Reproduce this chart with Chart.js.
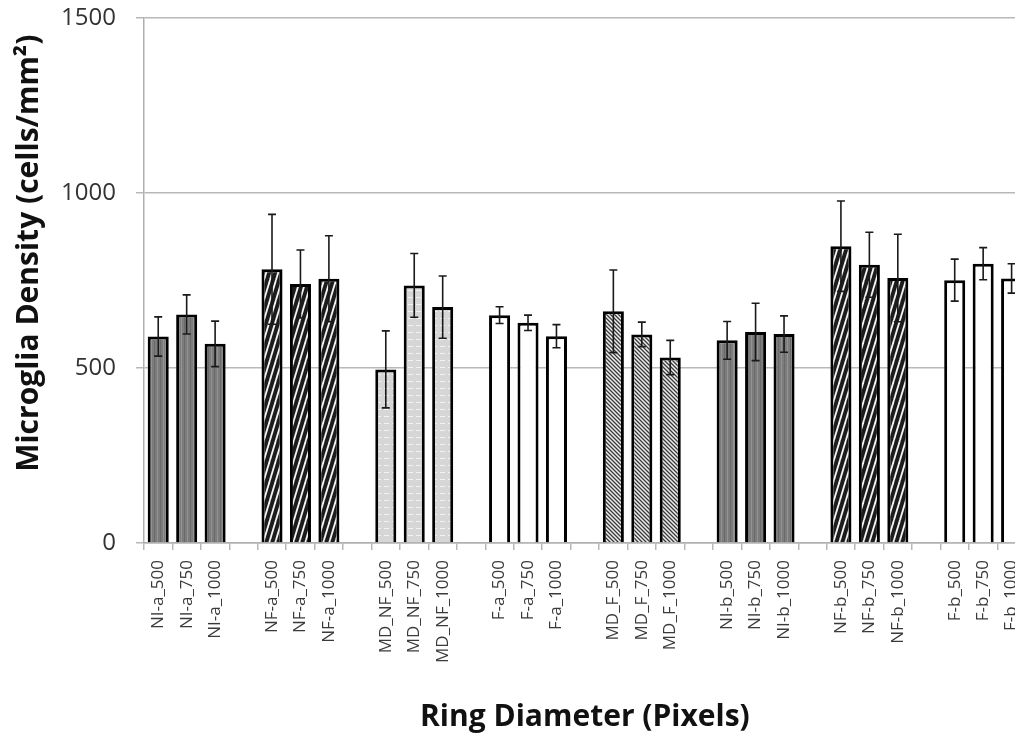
<!DOCTYPE html>
<html>
<head>
<meta charset="utf-8">
<script src="https://cdn.jsdelivr.net/npm/chart.js@4"></script>
<style>
  html, body { margin: 0; padding: 0; background: #fff; overflow: hidden; }
  #wrap { width: 1015px; height: 742px; overflow: hidden; }
</style>
</head>
<body>
<div id="wrap"><canvas id="chart" width="1042" height="742"></canvas></div>
<script>
// Blank labels are the spacer slots between groups
const labels = [
  'NI-a_500', 'NI-a_750', 'NI-a_1000', '',
  'NF-a_500', 'NF-a_750', 'NF-a_1000', '',
  'MD_NF_500', 'MD_NF_750', 'MD_NF_1000', '',
  'F-a_500', 'F-a_750', 'F-a_1000', '',
  'MD_F_500', 'MD_F_750', 'MD_F_1000', '',
  'NI-b_500', 'NI-b_750', 'NI-b_1000', '',
  'NF-b_500', 'NF-b_750', 'NF-b_1000', '',
  'F-b_500', 'F-b_750', 'F-b_1000'
];
const density = [
  590, 653, 569, null,
  782, 740, 755, null,
  496, 736, 674, null,
  651, 629, 591, null,
  662, 596, 530, null,
  579, 603, 597, null,
  848, 795, 757, null,
  751, 798, 756
];
const errors = [
  56, 56, 65, null,
  157, 97, 123, null,
  110, 91, 89, null,
  24, 22, 33, null,
  118, 35, 49, null,
  54, 82, 52, null,
  129, 93, 125, null,
  60, 46, 42
];
const yTicks = [0, 500, 1000, 1500];

function makePattern(kind) {
  if (kind === 'white') return '#ffffff';
  const c = document.createElement('canvas');
  const g = c.getContext('2d');
  if (kind === 'dark') {
    c.width = 6; c.height = 6;
    g.fillStyle = '#7c7c7c'; g.fillRect(0, 0, 6, 6);
    g.fillStyle = '#939393'; g.fillRect(1, 0, 1, 6);
    g.fillStyle = '#6a6a6a'; g.fillRect(4, 0, 1, 6);
  } else if (kind === 'diag') {
    c.width = 6; c.height = 20;
    g.fillStyle = '#1c1c1c'; g.fillRect(0, 0, 6, 20);
    g.strokeStyle = '#f4f4f4'; g.lineWidth = 1.8;
    for (const dx of [-6, 0, 6]) {
      g.beginPath(); g.moveTo(dx, 20); g.lineTo(dx + 6, 0); g.stroke();
    }
  } else if (kind === 'light') {
    c.width = 8; c.height = 7;
    g.fillStyle = '#d6d6d6'; g.fillRect(0, 0, 8, 7);
    g.fillStyle = '#f2f2f2'; g.fillRect(0, 3, 5, 1);
  } else if (kind === 'check') {
    c.width = 4; c.height = 4;
    g.fillStyle = '#9c9c9c'; g.fillRect(0, 0, 4, 4);
    g.fillStyle = '#3a3a3a';
    for (let i = 0; i < 4; i++) g.fillRect(i, i, 1, 1);
    g.fillStyle = '#eeeeee';
    for (let i = 0; i < 4; i++) g.fillRect((i + 2) % 4, i, 1, 1);
  }
  return g.createPattern(c, 'repeat');
}

const fillByGroup = { 'NI': 'dark', 'NF': 'diag', 'MD_NF': 'light', 'F': 'white', 'MD_F': 'check' };
const fills = labels.map(l => {
  if (!l) return '#ffffff';
  const group = l.replace(/_\d+$/, '').replace(/-[ab]$/, '');
  return makePattern(fillByGroup[group]);
});

// error bars (mean +/- err), drawn through the scales
const errorBars = {
  id: 'errorBars',
  afterDatasetsDraw(chart) {
    const ctx = chart.ctx;
    const y = chart.scales.y;
    const meta = chart.getDatasetMeta(0);
    ctx.save();
    ctx.strokeStyle = '#1a1a1a';
    ctx.lineWidth = 1.6;
    meta.data.forEach((bar, i) => {
      if (density[i] == null) return;
      const x = bar.x;
      const top = y.getPixelForValue(density[i] + errors[i]);
      const bot = y.getPixelForValue(density[i] - errors[i]);
      ctx.beginPath();
      ctx.moveTo(x, top); ctx.lineTo(x, bot);
      ctx.moveTo(x - 4, top); ctx.lineTo(x + 4, top);
      ctx.moveTo(x - 4, bot); ctx.lineTo(x + 4, bot);
      ctx.stroke();
    });
    ctx.restore();
  }
};

new Chart(document.getElementById('chart'), {
  type: 'bar',
  data: {
    labels,
    datasets: [{
      data: density,
      backgroundColor: fills,
      borderColor: '#000000',
      borderWidth: 3,
      barPercentage: 0.74,
      categoryPercentage: 1.0
    }]
  },
  options: {
    responsive: false,
    animation: false,
    layout: { padding: { top: 18, right: 0, left: 0, bottom: 0 } },
    plugins: { legend: { display: false }, tooltip: { enabled: false } },
    scales: {
      x: {
        afterFit: s => { s.height = 199; },
        grid: { display: true, drawOnChartArea: false, color: '#b8b8b8', lineWidth: 1.5, tickLength: 7 },
        border: { color: '#b0b0b0', width: 1.5 },
        ticks: {
          autoSkip: false, minRotation: 90, maxRotation: 90, padding: 10,
          color: '#3a3a3a', font: { family: 'Open Sans', size: 17 }
        },
        title: {
          display: true, text: 'Ring Diameter (Pixels)', color: '#111111',
          font: { family: 'Open Sans', size: 30, weight: 'bold' },
          padding: { top: 0, bottom: 7 }
        }
      },
      y: {
        min: 0, max: 1500,
        afterFit: s => { s.width = 144; s.paddingTop = 0; s.paddingBottom = 0; },
        afterBuildTicks: s => { s.ticks = yTicks.map(v => ({ value: v })); },
        grid: { color: '#b8b8b8', lineWidth: 1.5, tickLength: 8 },
        border: { color: '#b0b0b0', width: 1.5 },
        ticks: {
          padding: 20, color: '#333333',
          font: { family: 'Open Sans', size: 24 },
          callback: v => String(v)
        },
        title: {
          display: true, text: '       Microglia Density (cells/mm²)', color: '#111111',
          font: { family: 'Open Sans', size: 30, weight: 'bold' },
          padding: { top: 11, bottom: 0 }
        }
      }
    }
  },
  plugins: [errorBars]
});
</script>
</body>
</html>
